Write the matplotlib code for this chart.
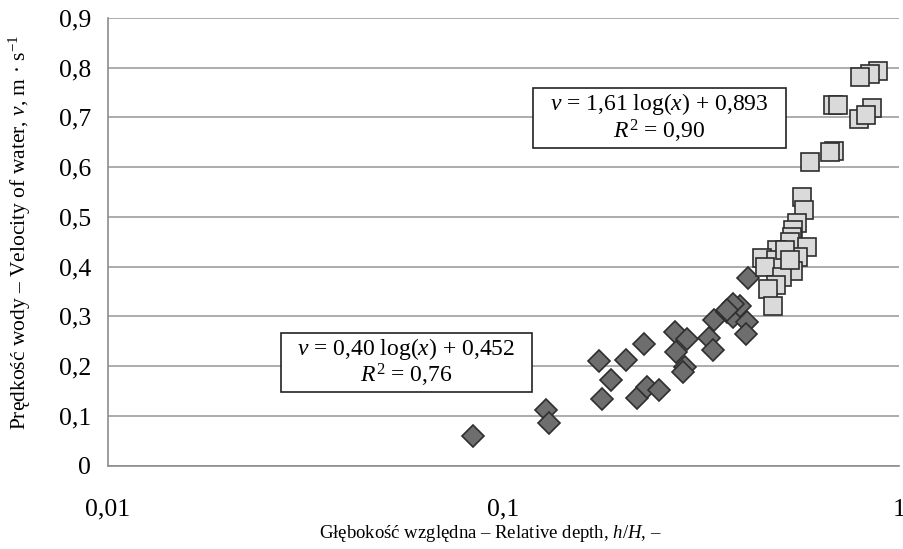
import matplotlib
matplotlib.use("Agg")
import matplotlib.pyplot as plt
from matplotlib.ticker import FixedLocator
from matplotlib.patches import Rectangle

plt.rcParams["font.family"] = "Liberation Serif"
plt.rcParams["mathtext.fontset"] = "custom"
plt.rcParams["mathtext.rm"] = "Liberation Serif"
plt.rcParams["mathtext.it"] = "Liberation Serif:italic"

# series 1 - diamonds (low depth)
x1 = [0.0839, 0.128, 0.130, 0.1747, 0.1867, 0.1778, 0.204, 0.227, 0.2176, 0.2306,
      0.2477, 0.2714, 0.2915, 0.2735, 0.2877, 0.2838, 0.3406, 0.3315, 0.3381, 0.3681,
      0.3812, 0.3963, 0.4135, 0.4097, 0.4145, 0.3812, 0.3668]
y1 = [0.060, 0.112, 0.085, 0.211, 0.171, 0.134, 0.212, 0.244, 0.136, 0.157,
      0.152, 0.268, 0.255, 0.228, 0.199, 0.189, 0.293, 0.256, 0.232, 0.309,
      0.299, 0.321, 0.288, 0.264, 0.378, 0.324, 0.313]

# series 2 - squares (high depth)
x2 = [0.8833, 0.8446, 0.797, 0.853, 0.680, 0.701, 0.794, 0.825, 0.686, 0.669,
      0.5957, 0.5675, 0.5763, 0.5513, 0.5406, 0.5356, 0.5303, 0.5843, 0.5565, 0.4908,
      0.4497, 0.4888, 0.5406, 0.4584, 0.5052, 0.4888, 0.4673, 0.4794, 0.5149, 0.530]
y2 = [0.794, 0.788, 0.782, 0.720, 0.725, 0.725, 0.697, 0.705, 0.633, 0.631,
      0.610, 0.541, 0.513, 0.487, 0.474, 0.460, 0.450, 0.439, 0.420, 0.434,
      0.418, 0.413, 0.392, 0.400, 0.380, 0.363, 0.355, 0.320, 0.433, 0.414]

yticks = [0, 0.1, 0.2, 0.3, 0.4, 0.5, 0.6, 0.7, 0.8, 0.9]
ylabels = ["0", "0,1", "0,2", "0,3", "0,4", "0,5", "0,6", "0,7", "0,8", "0,9"]
xticks = [0.01, 0.1, 1]
xlabels = ["0,01", "0,1", "1"]

eq1 = "$v$ = 0,40 log($x$) + 0,452\n$R^2$ = 0,76"
eq2 = "$v$ = 1,61 log($x$) + 0,893\n$R^2$ = 0,90"

W, H = 904, 549
fig = plt.figure(figsize=(W / 100, H / 100), dpi=100)
ax = fig.add_axes([108 / W, 1 - 465.5 / H, 791 / W, 447.5 / H])

ax.set_xscale("log")
ax.set_xlim(0.01, 1)
ax.set_ylim(0, 0.9)
ax.xaxis.set_major_locator(FixedLocator(xticks))
ax.xaxis.set_minor_locator(FixedLocator([]))
ax.set_xticklabels(xlabels)
ax.set_yticks(yticks)
ax.set_yticklabels(ylabels)
ax.tick_params(length=0, labelsize=18.5)
ax.tick_params(axis="x", pad=24)
ax.tick_params(axis="y", pad=12)

ax.yaxis.grid(True, color="#a6a6a6", lw=1.3)
ax.set_axisbelow(True)
for s in ["top", "right"]:
    ax.spines[s].set_visible(False)
for s in ["left", "bottom"]:
    ax.spines[s].set_color("#8c8c8c")
    ax.spines[s].set_linewidth(1.2)

ax.plot(x1, y1, "D", ms=11, mfc="#6e6e6e", mec="#2e2e2e", mew=1.2, clip_on=False)
ax.plot(x2, y2, "s", ms=12.5, mfc="#dadada", mec="#2e2e2e", mew=1.2, clip_on=False)

# equation boxes (pixel rectangles: left, top, right, bottom)
for (l, t, r, b), txt in [((281, 333, 532, 392), eq1), ((533, 88, 786, 148), eq2)]:
    fig.patches.append(Rectangle((l / W, 1 - b / H), (r - l) / W, (b - t) / H,
                                 transform=fig.transFigure, fc="white", ec="#222222",
                                 lw=1.2, zorder=5))
    fig.text((l + r) / 2 / W, 1 - (t + b) / 2 / H, txt, ha="center", va="center",
             fontsize=17, linespacing=1.0, zorder=6)

fig.text(490 / W, 1 - 533 / H, "Głębokość względna – Relative depth, $h/H$, –",
         ha="center", va="center", fontsize=13.5)
fig.text(20 / W, 1 - 232 / H, "Prędkość wody – Velocity of water, $v$, m · s$^{-1}$",
         ha="center", va="center", rotation=90, fontsize=15.5)

fig.savefig("out.png", dpi=100)
